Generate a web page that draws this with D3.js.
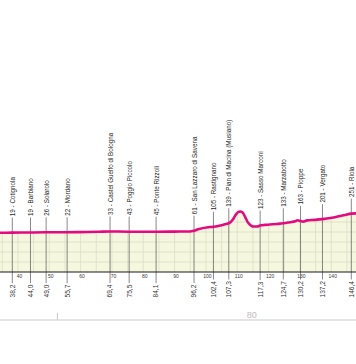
<!DOCTYPE html>
<html><head><meta charset="utf-8">
<script src="https://cdn.jsdelivr.net/npm/d3@7"></script>
<style>body{margin:0;background:#fff}svg{display:block}</style>
</head><body><svg id="c" width="356" height="364"></svg>
<script>
// ---- data ----
const profileKm  = [34.2, 38.2, 44.0, 49.0, 55.7, 62, 66, 69.4, 72, 75.5, 80, 84.1, 90, 94.9, 96.2, 97.5, 100.7, 102.4, 103.9, 106.4, 107.3, 108.6, 109.4, 110.2, 110.9, 111.7, 112.5, 113.4, 114.4, 115.3, 116.3, 117.3, 118.8, 120.4, 123.6, 124.7, 126.8, 128.5, 129.2, 130.2, 131.0, 132.3, 134.8, 137.2, 138.0, 141.2, 144.4, 146.4, 148];
const profileAlt = [16, 17, 19, 21, 22, 25, 29, 32, 31, 29, 28, 28, 30, 32, 42, 59, 84, 90, 100, 125, 134, 181, 235, 272, 282, 268, 215, 145, 105, 93, 94, 106, 114, 118, 130, 134, 148, 160, 172, 163, 155, 170, 177, 186, 190, 210, 238, 255, 258];

const locKm   = [38.2, 44.0, 49.0, 55.7, 69.4, 75.5, 84.1, 96.2, 102.4, 107.3, 117.3, 124.7, 130.2, 137.2, 146.4];
const locAlt  = [19, 19, 26, 22, 33, 43, 45, 61, 105, 139, 123, 133, 163, 201, 251];
const locName = ["Cotignola", "Barbiano", "Solarolo", "Mordano", "Castel Guelfo di Bologna", "Poggio Piccolo", "Ponte Rizzoli", "San Lazzaro di Savena", "Rastignano", "Pian di Macina (Musiano)", "Sasso Marconi", "Marzabotto", "Pioppe", "Vergato", "Riola"];

const kmTicks = [40, 50, 60, 70, 80, 90, 100, 110, 120, 130, 140];
const gridKm = [35, 40, 45, 50, 55, 60, 65, 70, 75, 80, 85, 90, 95, 100, 105, 110, 115, 120, 125, 130, 135, 140, 145];
const gridAlt = [-350, -225, -100, 25, 150, 275];
const baseAlt = -475;
const bracketTickKm = [52.6];
const bracketLabelKm = [114.6];
const bracketLabel = ["80"];

// ---- scales ----
const W = 356, H = 364;
const svg = d3.select('#c');
const x = d3.scaleLinear().domain([38.2, 146.4]).range([12.3, 351.3]);
const y = d3.scaleLinear().domain([0, 250]).range([234, 214]);
const altAt = d3.scaleLinear().domain(profileKm).range(profileAlt);
const axisY = y(baseAlt);
const pts = profileKm.map((k, i) => [k, profileAlt[i]]);

const area = d3.area().x(d => x(d[0])).y0(axisY).y1(d => y(d[1])).curve(d3.curveMonotoneX);
const line = d3.line().x(d => x(d[0])).y(d => y(d[1])).curve(d3.curveMonotoneX);

svg.append('clipPath').attr('id', 'clip').append('path').attr('d', area(pts));

svg.append('path').attr('d', area(pts)).attr('fill', '#f5f7de');

const grid = svg.append('g').attr('clip-path', 'url(#clip)');
grid.selectAll('line.v').data(gridKm).join('line')
  .attr('x1', d => x(d)).attr('x2', d => x(d)).attr('y1', 150).attr('y2', axisY)
  .attr('stroke', '#d2d6bd').attr('stroke-width', 0.6);
grid.selectAll('line.h').data(gridAlt).join('line')
  .attr('x1', 0).attr('x2', W).attr('y1', d => y(d)).attr('y2', d => y(d))
  .attr('stroke', '#d2d6bd').attr('stroke-width', 0.6);

// ---- locations ----
const font = '"Liberation Sans", Arial, sans-serif';
const distBase = 297.5;
const loc = svg.append('g');
locKm.forEach((k, i) => {
  const xp = x(k);
  const labBottom = y(altAt(k)) - 16.5;
  const dt = loc.append('text')
    .attr('transform', `translate(${xp},${distBase}) rotate(-90)`)
    .attr('dy', '0.36em')
    .attr('font-family', font).attr('font-size', 6.6).attr('fill', '#333')
    .text(k.toFixed(1).replace('.', ','));
  const dlen = dt.node().getComputedTextLength();
  loc.append('text')
    .attr('transform', `translate(${xp},${labBottom}) rotate(-90) scale(0.875,1)`)
    .attr('dy', '0.36em')
    .attr('font-family', font).attr('font-size', 7.2).attr('fill', '#262626')
    .text(`${locAlt[i]} - ${locName[i]}`);
  loc.insert('line', ':first-child')
    .attr('x1', xp).attr('x2', xp)
    .attr('y1', labBottom + 1.5).attr('y2', distBase - dlen - 1.5)
    .attr('stroke', '#555').attr('stroke-width', 0.7);
});

// ---- profile line ----
svg.append('path').attr('d', line(pts)).attr('fill', 'none')
  .attr('stroke', '#e5097f').attr('stroke-width', 2.6).attr('stroke-linejoin', 'round');

// ---- axis ----
svg.append('line').attr('x1', 0).attr('x2', W).attr('y1', axisY).attr('y2', axisY)
  .attr('stroke', '#1a1a1a').attr('stroke-width', 1.1);
const ax = svg.append('g').attr('transform', `translate(0,${axisY})`)
  .call(d3.axisBottom(x).tickValues(kmTicks).tickSize(0).tickPadding(2.2).tickFormat(d3.format('d')));
ax.select('.domain').remove();
ax.selectAll('text').attr('font-family', font).attr('font-size', 5.8).attr('fill', '#3a3a3a')
  .attr('transform', 'translate(1,0) scale(0.86,1)');

// ---- lower grey bracket ----
svg.append('line').attr('x1', 0).attr('x2', W).attr('y1', 320).attr('y2', 320)
  .attr('stroke', '#c9c9c9').attr('stroke-width', 1.2);
svg.selectAll('line.bt').data(bracketTickKm).join('line')
  .attr('x1', d => x(d)).attr('x2', d => x(d)).attr('y1', 313).attr('y2', 320)
  .attr('stroke', '#c9c9c9').attr('stroke-width', 1);
svg.selectAll('text.bl').data(bracketLabelKm).join('text')
  .attr('x', d => x(d)).attr('y', 317.5).attr('text-anchor', 'middle')
  .attr('font-family', font).attr('font-size', 9).attr('fill', '#bdbdbd')
  .text((d, i) => bracketLabel[i]);
</script></body></html>
